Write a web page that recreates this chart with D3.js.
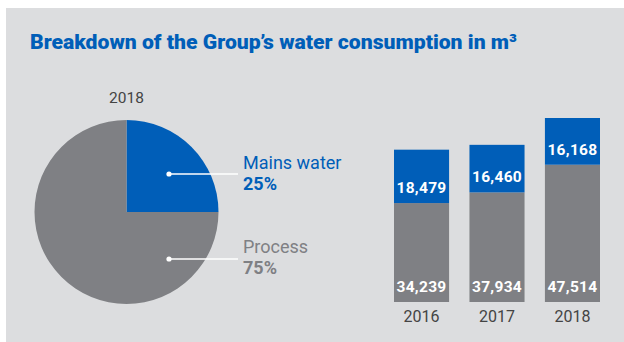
<!DOCTYPE html>
<html>
<head>
<meta charset="utf-8">
<script src="https://cdn.jsdelivr.net/npm/d3@7"></script>
<style>
  body { margin: 0; background: #fff; }
  svg { display: block; font-family: Roboto, "Noto Sans", sans-serif; }
</style>
</head>
<body>
<div id="canvas"></div>
<script>
"use strict"

// data
const pieYear = "2018";
const pieLabels = ["Mains water", "Process"];
const pieShares = [25, 75];

const years = ["2016", "2017", "2018"];
const processValues = [34239, 37934, 47514];
const mainsValues = [18479, 16460, 16168];

const blue = "#005eb8";
const grey = "#7f8084";
const bg = "#dcdddf";

let drawing = d3.select("#canvas")
    .append("svg")
    .attr("width", 624)
    .attr("height", 342);

drawing.append("rect")
    .attr("x", 6)
    .attr("y", 8)
    .attr("width", 618)
    .attr("height", 334)
    .attr("fill", bg);

drawing.append("text")
    .attr("x", 30)
    .attr("y", 49)
    .attr("fill", blue)
    .attr("font-size", 20.5)
    .attr("font-weight", 900)
    .attr("textLength", 487)
    .attr("lengthAdjust", "spacingAndGlyphs")
    .text("Breakdown of the Group\u2019s water consumption in m\u00b3");

/* ---- pie ---- */
let cx = 126.5, cy = 212, r = 92;
let pie = drawing.append("g").attr("transform", `translate(${cx},${cy})`);

let arcs = d3.pie().sort(null)(pieShares);
let arc = d3.arc().innerRadius(0).outerRadius(r);

pie.selectAll("path")
    .data(arcs)
    .join("path")
    .attr("d", arc)
    .attr("fill", (d, i) => i == 0 ? blue : grey);

pie.append("text")
    .attr("x", 0)
    .attr("y", 102.7 - cy)
    .attr("text-anchor", "middle")
    .attr("fill", "#444")
    .attr("font-size", 15.5)
    .text(pieYear);

let dotY = [174, 259];
let labelY = [169, 253];
pieLabels.forEach(function (name, i) {
    let col = i == 0 ? blue : grey;
    pie.append("line")
        .attr("x1", 169 - cx).attr("y1", dotY[i] - cy)
        .attr("x2", 238 - cx).attr("y2", dotY[i] - cy)
        .attr("stroke", "#fff")
        .attr("stroke-width", 1.3);
    pie.append("circle")
        .attr("cx", 169 - cx).attr("cy", dotY[i] - cy)
        .attr("r", 2.6)
        .attr("fill", "#fff");
    pie.append("text")
        .attr("x", 243 - cx).attr("y", labelY[i] - cy)
        .attr("fill", col)
        .attr("font-size", 18)
        .text(name);
    pie.append("text")
        .attr("x", 243 - cx).attr("y", labelY[i] + 20.5 - cy)
        .attr("fill", col)
        .attr("font-size", 18)
        .attr("font-weight", 700)
        .text(pieShares[i] + "%");
});

/* ---- stacked bars ---- */
let totals = years.map((y, i) => processValues[i] + mainsValues[i]);

let x = d3.scaleBand()
    .domain(years)
    .range([394, 600])
    .paddingInner(0.27)
    .paddingOuter(0);

let y = d3.scaleLinear()
    .domain([0, d3.max(totals)])
    .range([302, 118]);

let fmt = d3.format(",");
let bars = drawing.append("g");

years.forEach(function (yr, i) {
    let bx = x(yr), bw = x.bandwidth();
    let p = processValues[i], m = mainsValues[i];

    bars.append("rect")
        .attr("x", bx).attr("width", bw)
        .attr("y", y(p)).attr("height", y(0) - y(p))
        .attr("fill", grey);
    bars.append("rect")
        .attr("x", bx).attr("width", bw)
        .attr("y", y(p + m)).attr("height", y(p) - y(p + m))
        .attr("fill", blue);

    bars.append("text")
        .attr("x", bx + bw / 2).attr("y", y(0) - 10)
        .attr("text-anchor", "middle")
        .attr("fill", "#fff")
        .attr("font-size", 15.5)
        .attr("font-weight", 700)
        .attr("letter-spacing", 0.3)
        .text(fmt(p));
    bars.append("text")
        .attr("x", bx + bw / 2).attr("y", y(p) - 10)
        .attr("text-anchor", "middle")
        .attr("fill", "#fff")
        .attr("font-size", 15.5)
        .attr("font-weight", 700)
        .attr("letter-spacing", 0.3)
        .text(fmt(m));
});

let axis = d3.axisBottom(x).tickSize(0).tickPadding(0);
let ax = drawing.append("g")
    .attr("transform", "translate(0,311)")
    .call(axis);
ax.select(".domain").remove();
ax.selectAll("text")
    .attr("fill", "#444")
    .attr("font-size", 16)
    .attr("font-family", "Roboto, sans-serif");
</script>
</body>
</html>
